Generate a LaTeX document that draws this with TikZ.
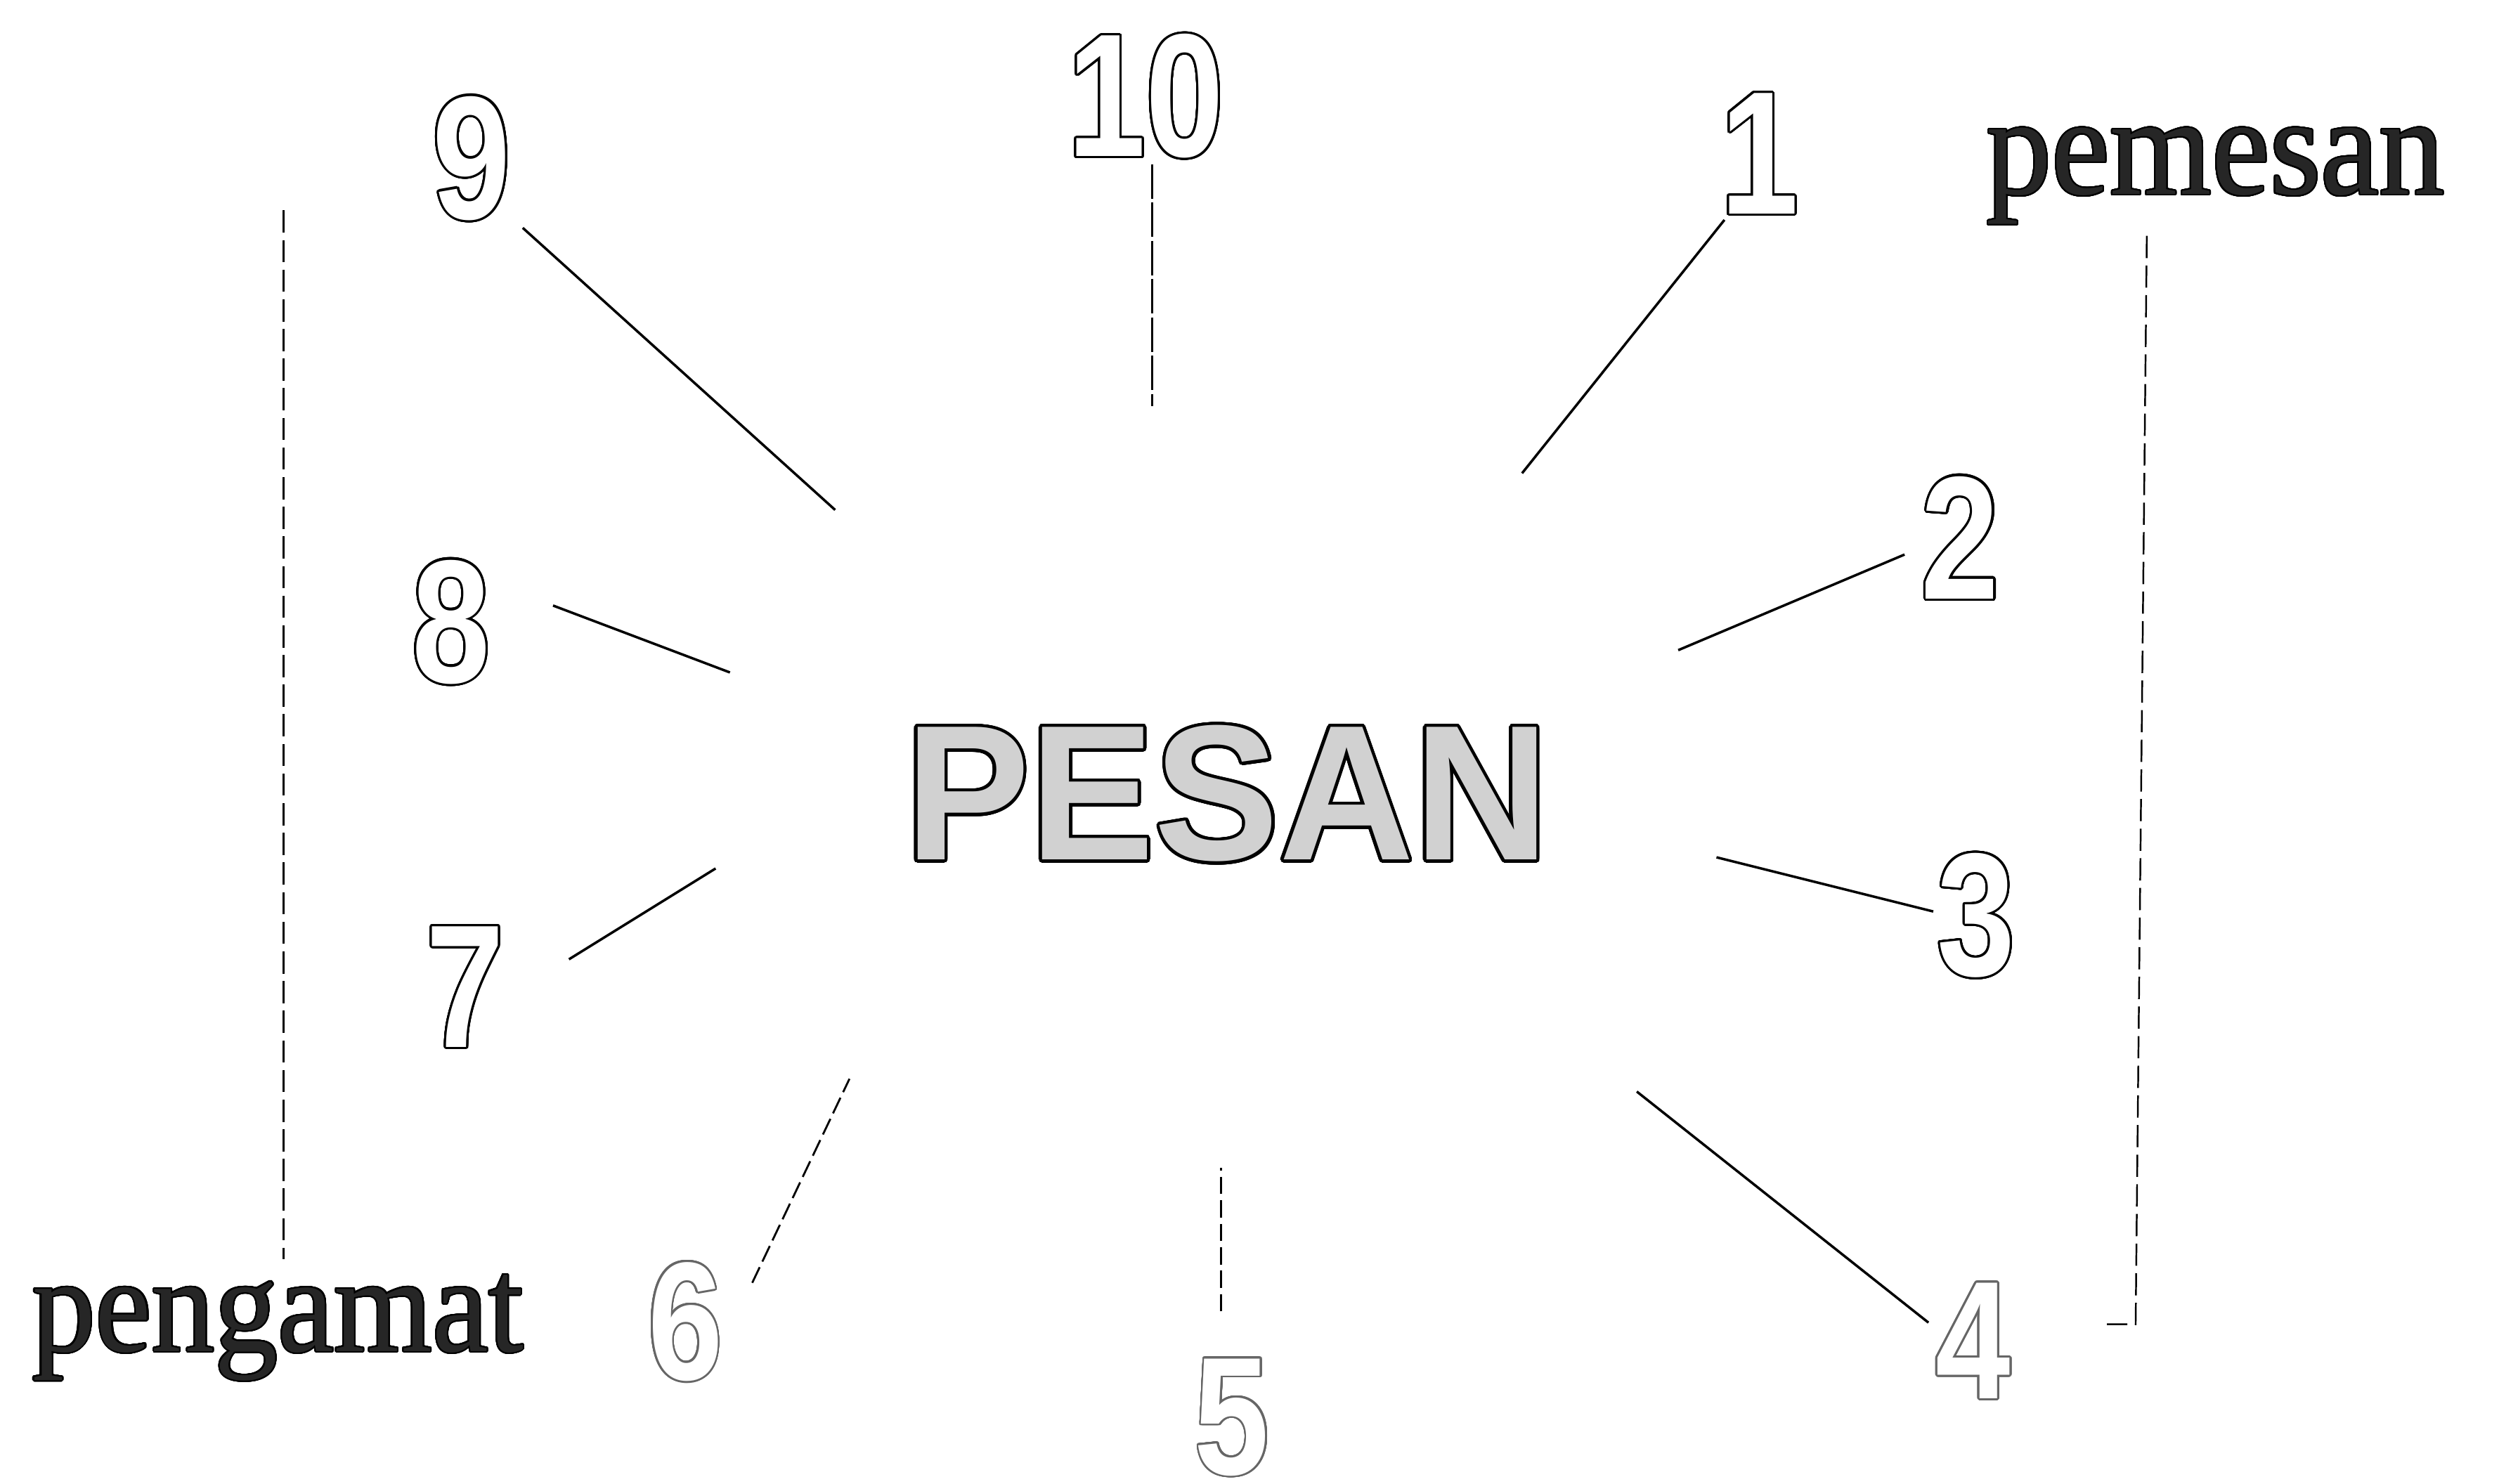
\documentclass[tikz,border=0pt]{standalone}
\usepackage{fontspec}
\usepackage{contour}
\newfontfamily\numfont[FakeStretch=0.8]{Liberation Sans}
\newfontfamily\headfont[FakeStretch=0.97]{Liberation Sans}
\newfontfamily\wordfont[FakeStretch=0.93]{Liberation Serif}
\contournumber{32}
\newcommand{\hollow}[2][black]{\contour{#1}{#2}}

\begin{document}
\begin{tikzpicture}[
    x=0.02268cm, y=-0.02268cm,
    num/.style={text=white, inner sep=0pt,
                font=\numfont\bfseries\fontsize{71}{71}\selectfont\contourlength{0.9pt}},
    faintnum/.style={num, font=\numfont\bfseries\fontsize{68}{68}\selectfont\contourlength{0.8pt}},
    word/.style={text=black!85, inner sep=0pt, anchor=base west,
                 font=\wordfont\fontsize{57}{57}\selectfont\contourlength{0.6pt}},
    spoke/.style={line width=1pt},
    dspoke/.style={line width=0.8pt, dash pattern=on 7pt off 2.5pt},
    bracket/.style={line width=0.7pt, dash pattern=on 9pt off 3pt}
]
    \useasboundingbox (0,0) rectangle (1568,931);

    % centre word
    \node[inner sep=0pt, text=black!18,
          font=\headfont\bfseries\fontsize{78}{78}\selectfont\contourlength{1.3pt}]
          (pesan) at (770,499) {\hollow{PESAN}};

    % numbers round it
    \node[num] (n10) at (719,61)  {\hollow{10}};
    \node[num] (n9)  at (296,100) {\hollow{9}};
    \node[num] (n1)  at (1104,97) {\hollow{1}};
    \node[num] (n2)  at (1230,338) {\hollow{2}};
    \node[num] (n8)  at (283,391) {\hollow{8}};
    \node[num] (n3)  at (1240,575) {\hollow{3}};
    \node[num] (n7)  at (292,620) {\hollow{7}};
    \node[faintnum] (n6) at (430,830) {\hollow[black!60]{6}};
    \node[faintnum] (n5) at (773,890) {\hollow[black!60]{5}};
    \node[faintnum] (n4) at (1238,842) {\hollow[black!60]{4}};

    % side labels
    \node[word] (pemesan)  at (1246,122) {\hollow{pemesan}};
    \node[word, font=\wordfont\fontsize{55}{55}\selectfont\contourlength{0.6pt}]
          (pengamat) at (20,848) {\hollow{pengamat}};

    % spoke ends
    \coordinate (a9)  at (328,143);  \coordinate (b9)  at (524,320);
    \coordinate (a10) at (723,103);  \coordinate (b10) at (723,255);
    \coordinate (a1)  at (1082,138); \coordinate (b1)  at (955,297);
    \coordinate (a2)  at (1195,348); \coordinate (b2)  at (1053,408);
    \coordinate (a8)  at (347,380);  \coordinate (b8)  at (458,422);
    \coordinate (a3)  at (1213,572); \coordinate (b3)  at (1077,538);
    \coordinate (a7)  at (357,602);  \coordinate (b7)  at (449,545);
    \coordinate (a6)  at (472,805);  \coordinate (b6)  at (533,677);
    \coordinate (a5)  at (766,823);  \coordinate (b5)  at (766,733);
    \coordinate (a4)  at (1210,830); \coordinate (b4)  at (1027,685);

    \draw[spoke] (a9) -- (b9);
    \draw[line width=0.8pt, dash pattern=on 14pt off 1.5pt] (a10) -- (b10);
    \draw[spoke] (a1) -- (b1);
    \draw[spoke] (a2) -- (b2);
    \draw[spoke] (a8) -- (b8);
    \draw[spoke] (a3) -- (b3);
    \draw[spoke] (a7) -- (b7);
    \draw[dspoke] (a6) -- (b6);
    \draw[dspoke] (a5) -- (b5);
    \draw[spoke] (a4) -- (b4);

    % brackets
    \coordinate (lt) at (178,132);  \coordinate (lb) at (178,790);
    \coordinate (rt) at (1347,148); \coordinate (rb) at (1340,831);
    \coordinate (re) at (1322,831);
    \draw[bracket] (lt) -- (lb);
    \draw[bracket] (rt) -- (rb) -- (re);
\end{tikzpicture}
\end{document}
